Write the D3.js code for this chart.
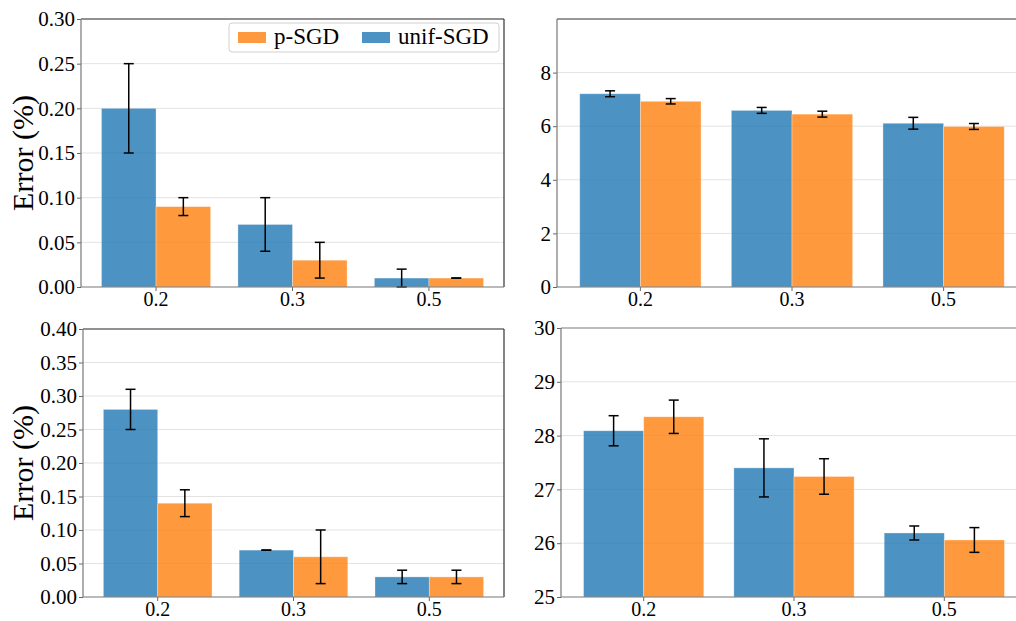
<!DOCTYPE html>
<html>
<head>
<meta charset="utf-8">
<script src="https://cdn.jsdelivr.net/npm/d3@7"></script>
<style>
  body { margin: 0; background: #fff; }
  svg, svg text { font-family: "Liberation Serif", "Times New Roman", serif; }
</style>
</head>
<body>
<div id="chart"></div>
<script>
// data
var cats = ["0.2", "0.3", "0.5"];

var tlUnif = [0.20, 0.07, 0.01], tlUnifErr = [0.05, 0.03, 0.01];
var tlP = [0.09, 0.03, 0.01], tlPErr = [0.01, 0.02, 0.0];

var trUnif = [7.21, 6.59, 6.11], trUnifErr = [0.11, 0.11, 0.22];
var trP = [6.93, 6.45, 5.99], trPErr = [0.10, 0.11, 0.11];

var blUnif = [0.28, 0.07, 0.03], blUnifErr = [0.03, 0.0, 0.01];
var blP = [0.14, 0.06, 0.03], blPErr = [0.02, 0.04, 0.01];

var brUnif = [28.09, 27.40, 26.19], brUnifErr = [0.28, 0.54, 0.13];
var brP = [28.35, 27.24, 26.06], brPErr = [0.31, 0.33, 0.23];

var ticksSmall = [0, 0.05, 0.10, 0.15, 0.20, 0.25, 0.30];
var ticksSmall2 = [0, 0.05, 0.10, 0.15, 0.20, 0.25, 0.30, 0.35, 0.40];
var ticksTR = [0, 2, 4, 6, 8];
var ticksBR = [25, 26, 27, 28, 29, 30];

var blue = "#1f77b4", orange = "#ff7f0e";

var svg = d3.select("#chart").append("svg")
    .attr("width", 1016)
    .attr("height", 621);

function panel(opt) {
    var w = opt.right - opt.left, h = opt.bottom - opt.top;
    var g = svg.append("g")
        .attr("transform", "translate(" + opt.left + "," + opt.top + ")");

    var x = d3.scaleBand().domain(cats).range([0, w]).paddingInner(0).paddingOuter(0.05);
    var y = d3.scaleLinear().domain(opt.domain).range([h, 0]);
    var bw = x.step() * 0.4;

    // grid
    g.selectAll(".grid").data(opt.ticks.filter(function (t) { return t != opt.domain[0]; }))
        .enter().append("line")
        .attr("x1", 0).attr("x2", w)
        .attr("y1", function (d) { return y(d); })
        .attr("y2", function (d) { return y(d); })
        .attr("stroke", "#e3e3e3")
        .attr("stroke-width", 1);

    var series = [
        { vals: opt.unif, errs: opt.unifErr, color: blue, off: -1 },
        { vals: opt.p, errs: opt.pErr, color: orange, off: 0 }
    ];

    series.forEach(function (s) {
        g.selectAll(null).data(s.vals).enter().append("rect")
            .attr("x", function (d, i) { return x(cats[i]) + x.bandwidth() / 2 + s.off * bw; })
            .attr("width", bw)
            .attr("y", function (d) { return y(d); })
            .attr("height", function (d) { return y(opt.domain[0]) - y(d); })
            .attr("fill", s.color)
            .attr("fill-opacity", 0.8)
            .attr("stroke", "#fff")
            .attr("stroke-opacity", 0.4)
            .attr("stroke-width", 0.8);
    });

    // error bars
    series.forEach(function (s) {
        s.vals.forEach(function (v, i) {
            var cx = x(cats[i]) + x.bandwidth() / 2 + s.off * bw + bw / 2;
            var lo = y(v - s.errs[i]), hi = y(v + s.errs[i]);
            g.append("line").attr("x1", cx).attr("x2", cx).attr("y1", lo).attr("y2", hi)
                .attr("stroke", "#000").attr("stroke-width", 1.5);
            [lo, hi].forEach(function (yy) {
                g.append("line").attr("x1", cx - 5).attr("x2", cx + 5).attr("y1", yy).attr("y2", yy)
                    .attr("stroke", "#000").attr("stroke-width", 1.5);
            });
        });
    });

    // axes
    var yAxis = g.append("g")
        .call(d3.axisLeft(y).tickValues(opt.ticks).tickFormat(opt.fmt).tickSize(4).tickPadding(2))
        .attr("font-family", null).attr("font-size", null);
    yAxis.select(".domain").remove();
    yAxis.selectAll("line").attr("stroke", "#666");
    yAxis.selectAll("text").style("font-size", "21px").attr("fill", "#000");

    var xAxis = g.append("g")
        .attr("transform", "translate(0," + h + ")")
        .call(d3.axisBottom(x).tickSize(4).tickPadding(1))
        .attr("font-family", null).attr("font-size", null);
    xAxis.select(".domain").remove();
    xAxis.selectAll("line").attr("stroke", "#666");
    xAxis.selectAll("text").style("font-size", "20px").attr("fill", "#000");

    // spines
    g.append("line").attr("x1", 0).attr("x2", w).attr("y1", 0).attr("y2", 0)
        .attr("stroke", opt.topColor || "#333").attr("stroke-width", 1.2);
    g.append("line").attr("x1", w).attr("x2", w).attr("y1", 0).attr("y2", h)
        .attr("stroke", "#333").attr("stroke-width", 1.2);
    g.append("line").attr("x1", 0).attr("x2", 0).attr("y1", 0).attr("y2", h)
        .attr("stroke", "#777").attr("stroke-width", 1.2);
    g.append("line").attr("x1", 0).attr("x2", w).attr("y1", h).attr("y2", h)
        .attr("stroke", "#777").attr("stroke-width", 1.2);

    if (opt.ylabel) {
        svg.append("text")
            .attr("transform", "translate(" + 33 + "," + (opt.top + h / 2) + ") rotate(-90)")
            .attr("text-anchor", "middle")
            .style("font-size", "30px")
            .text(opt.ylabel);
    }
    return g;
}

var f2 = d3.format(".2f");

panel({ left: 81, right: 504, top: 19, bottom: 287, domain: [0, 0.30], ticks: ticksSmall, fmt: f2,
    unif: tlUnif, unifErr: tlUnifErr, p: tlP, pErr: tlPErr, ylabel: "Error (%)" });
panel({ left: 557, right: 1027, top: 19, bottom: 287, domain: [0, 10], ticks: ticksTR, fmt: d3.format("d"),
    unif: trUnif, unifErr: trUnifErr, p: trP, pErr: trPErr });
panel({ left: 83, right: 504, top: 329, bottom: 597, domain: [0, 0.40], ticks: ticksSmall2, fmt: f2,
    unif: blUnif, unifErr: blUnifErr, p: blP, pErr: blPErr, ylabel: "Error (%)" });
panel({ left: 561, right: 1027, top: 328, bottom: 597, domain: [25, 30], ticks: ticksBR, fmt: d3.format("d"),
    unif: brUnif, unifErr: brUnifErr, p: brP, pErr: brPErr, topColor: "#888" });

// legend (top-left panel)
var legend = svg.append("g");
legend.append("rect")
    .attr("x", 229).attr("y", 23).attr("width", 270).attr("height", 29)
    .attr("rx", 3)
    .attr("fill", "#fff").attr("fill-opacity", 0.85)
    .attr("stroke", "#d0d0d0").attr("stroke-width", 1);
var items = [{ name: "p-SGD", color: orange, x: 238 }, { name: "unif-SGD", color: blue, x: 362 }];
items.forEach(function (it) {
    legend.append("rect").attr("x", it.x).attr("y", 32).attr("width", 28).attr("height", 11)
        .attr("fill", it.color).attr("fill-opacity", 0.8);
    legend.append("text").attr("x", it.x + 36).attr("y", 44)
        .style("font-size", "23px").text(it.name);
});
</script>
</body>
</html>
